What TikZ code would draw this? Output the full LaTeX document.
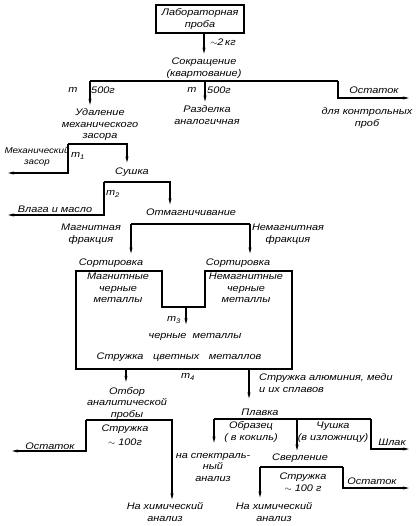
\documentclass[tikz,border=0pt]{standalone}
\usepackage{fontspec}
\setmainfont{Liberation Sans}[FakeStretch=1.15]
\usetikzlibrary{arrows.meta,positioning,calc}

\begin{document}
\begin{tikzpicture}
    [x=1pt, y=-1pt,
        txt/.style={
          font=\itshape\fontsize{9.5}{11.5}\selectfont,
          align=center,
          inner sep=0pt
        },
        box/.style={
          txt,
          rectangle,
          draw=black,
          line width=1.6pt,
          minimum width=88pt,
          minimum height=28pt
        },
        line/.style={line width=1.6pt},
        arr/.style={line, -{Stealth[length=6pt,width=3pt]}}
    ]
    \useasboundingbox (0,0) rectangle (415,526);

    \node[box] (lab) at (200,19) {Лабораторная\\проба};
    \node[txt] (sokr) at (204,68) {Сокращение\\(квартование)};
    \node[txt] (kg) at (223,42) {$\sim$2\,кг};
    \draw[arr, shorten >=4pt] (sokr |- lab.south) -- (sokr.north);

    \node[txt] (ma) at (73,90) {m};
    \node[txt] (ga) at (103,90) {500г};
    \node[txt] (mb) at (192,90) {m};
    \node[txt] (gb) at (219,90) {500г};
    \node[txt] (udal) at (100,125) {Удаление\\механического\\засора};
    \node[txt] (razd) at (207,115) {Разделка\\аналогичная};
    \node[txt] (ost1) at (374,90) {Остаток};
    \node[txt] (kontr) at (367,118) {для контрольных\\проб};
    \coordinate (sA) at (90,81);
    \coordinate (sM) at (205,81);
    \coordinate (sB) at (338,81);
    \coordinate (oB) at (338,98);
    \coordinate (oE) at (409,98);
    \draw[line] (sA) -- (sB);
    \draw[arr, shorten >=4pt] (sA) -- (sA |- udal.north);
    \draw[arr, shorten >=4pt] (sM) -- (sM |- razd.north);
    \draw[arr] (sB) -- (oB) -- (oE);

    \node[txt, font=\itshape\fontsize{8.5}{11}\selectfont] (mz) at (37,157) {Механический\\засор};
    \node[txt] (m1) at (78,156) {m\textsubscript{1}};
    \node[txt] (sush) at (132,172) {Сушка};
    \coordinate (z1) at (68,144);
    \coordinate (z2) at (127,144);
    \coordinate (z3) at (68,173);
    \coordinate (z4) at (8,173);
    \draw[arr, shorten >=5pt] (z1) -- (z2) -- (z2 |- sush.north);
    \draw[arr] (z1) -- (z3) -- (z4);

    \node[txt] (vlaga) at (55,209) {Влага и масло};
    \node[txt] (m2) at (113,194) {m\textsubscript{2}};
    \node[txt] (otm) at (191,212) {Отмагничивание};
    \coordinate (y1) at (104,182);
    \coordinate (y2) at (170,182);
    \coordinate (y3) at (104,215);
    \coordinate (y4) at (8,215);
    \draw[arr, shorten >=4pt] (y1) -- (y2) -- (y2 |- otm.north);
    \draw[arr] (y1) -- (y3) -- (y4);

    \node[txt] (magf) at (91,234) {Магнитная\\фракция};
    \node[txt] (nemf) at (288,234) {Немагнитная\\фракция};
    \node[txt] (sortL) at (111,263) {Сортировка};
    \node[txt] (sortR) at (238,263) {Сортировка};
    \coordinate (x1) at (131,224);
    \coordinate (x2) at (250,224);
    \draw[line] (x1) -- (x2);
    \draw[arr, shorten >=5pt] (x1) -- (x1 |- sortL.north);
    \draw[arr, shorten >=5pt] (x2) -- (x2 |- sortR.north);

    \draw[line] (76,271) -- (162,271) -- (162,307) -- (205,307) -- (205,271)
      -- (292,271) -- (292,369) -- (76,369) -- cycle;
    \node[txt] (mcm) at (118,288) {Магнитные\\черные\\металлы};
    \node[txt] (nmcm) at (246,288) {Немагнитные\\черные\\металлы};
    \node[txt] (m3) at (174,320) {m\textsubscript{3}};
    \node[txt] (chm) at (195,337) {черные\ \ металлы};
    \node[txt] (svm) at (179,357) {Стружка\quad цветных\quad металлов};
    \coordinate (notch) at (186,307);
    \draw[arr, shorten >=9pt] (notch) -- (notch |- chm.north);

    \node[txt] (m4) at (188,377) {m\textsubscript{4}};
    \node[txt, align=left, anchor=west] (alum) at (259,383) {Стружка алюминия, меди\\и их сплавов};
    \node[txt] (otbor) at (127,403) {Отбор\\аналитической\\пробы};
    \node[txt] (plav) at (260,412) {Плавка};
    \coordinate (b1) at (126,369);
    \coordinate (b2) at (249,369);
    \draw[arr, shorten >=5pt] (b1) -- (b1 |- otbor.north);
    \draw[arr, shorten >=10pt] (b2) -- (b2 |- plav.north);

    \node[txt] (str1) at (125,435) {Стружка\\[3pt]$\sim$ 100г};
    \node[txt] (ost2) at (50,446) {Остаток};
    \node[txt] (him1) at (165,512) {На химический\\анализ};
    \coordinate (w1) at (86,420);
    \coordinate (w2) at (172,420);
    \coordinate (w3) at (86,451);
    \coordinate (w4) at (12,451);
    \draw[arr, shorten >=3pt] (w1) -- (w2) -- (w2 |- him1.north);
    \draw[arr] (w1) -- (w3) -- (w4);

    \node[txt] (obr) at (251,432) {Образец\\( в кокиль)};
    \node[txt] (chush) at (333,432) {Чушка\\(в изложницу)};
    \node[txt] (shlak) at (392,442) {Шлак};
    \node[txt] (spek) at (213,467) {на спектраль-\\ный\\анализ};
    \node[txt] (sverl) at (300,458) {Сверление};
    \coordinate (v1) at (214,419);
    \coordinate (v2) at (297,419);
    \coordinate (v3) at (371,419);
    \coordinate (v4) at (371,449);
    \coordinate (v5) at (409,449);
    \draw[line] (v1) -- (v3);
    \draw[arr, shorten >=10pt] (v1) -- (v1 |- spek.north);
    \draw[arr, shorten >=3pt] (v2) -- (v2 |- sverl.north);
    \draw[arr] (v3) -- (v4) -- (v5);

    \node[txt] (str2) at (303,482) {Стружка\\$\sim$ 100 г};
    \node[txt] (ost3) at (372,481) {Остаток};
    \node[txt] (him2) at (274,512) {На химический\\анализ};
    \coordinate (u1) at (260,467);
    \coordinate (u2) at (343,467);
    \coordinate (u3) at (343,488);
    \coordinate (u4) at (409,488);
    \draw[line] (u1) -- (u2);
    \draw[arr, shorten >=5pt] (u1) -- (u1 |- him2.north);
    \draw[arr] (u2) -- (u3) -- (u4);
\end{tikzpicture}
\end{document}
